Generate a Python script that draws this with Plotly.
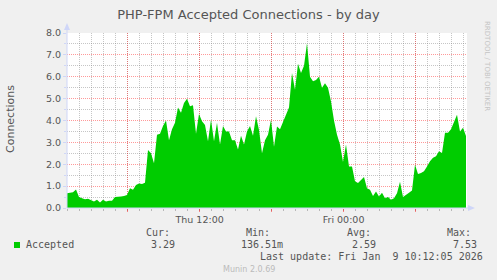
import plotly.graph_objects as go
import pandas as pd

# ---------------- data ----------------
start_time = "2026-01-08 00:57"
step = "15min"
accepted = [
    0.68, 0.70, 0.72, 0.85, 0.50, 0.45, 0.40, 0.42, 0.35, 0.30,
    0.38, 0.25, 0.38, 0.30, 0.33, 0.33, 0.50, 0.53, 0.53, 0.55,
    0.60, 0.90, 0.83, 1.05, 1.12, 1.10, 1.15, 2.65, 2.50, 2.05,
    3.35, 3.40, 3.75, 4.00, 3.10, 3.60, 3.90, 4.60, 4.35, 4.80,
    5.00, 4.65, 4.70, 3.40, 4.30, 3.97, 3.80, 3.05, 4.05, 3.05,
    3.90, 2.90, 3.75, 3.50, 3.50, 3.10, 3.10, 2.68, 3.30, 2.90,
    3.50, 3.75, 3.30, 4.20, 3.57, 2.50, 3.10, 3.35, 4.03, 2.80,
    3.73, 3.60, 3.95, 4.30, 4.60, 6.17, 5.40, 6.60, 6.17, 6.50,
    7.53, 6.00, 5.80, 5.85, 6.00, 5.50, 5.70, 5.50, 4.87, 4.00,
    3.35, 2.90, 2.10, 2.90, 1.90, 1.90, 1.22, 1.14, 1.30, 1.42,
    0.90, 0.84, 0.55, 0.76, 0.53, 0.70, 0.45, 0.50, 0.38, 0.45,
    0.68, 1.20, 0.50, None, 0.70, 0.80, 1.98, 1.55, 1.60, 1.68,
    1.90, 2.14, 2.30, 2.37, 2.60, 2.52, 3.44, 3.44, 3.60, 3.90,
    4.26, 3.50, 3.67, 3.29,
]
times = pd.date_range(start_time, periods=len(accepted), freq=step)

x_range = ["2026-01-08 00:57", "2026-01-09 10:17"]
x_tickvals = ["2026-01-08 06:00", "2026-01-08 12:00", "2026-01-08 18:00",
              "2026-01-09 00:00", "2026-01-09 06:00"]
x_ticktext = ["", "Thu 12:00", "", "Fri 00:00", ""]

title_text = "PHP-FPM Accepted Connections - by day"
y_title = "Connections"
series_name = "Accepted"
stat_headers = ["Cur:", "Min:", "Avg:", "Max:"]
stat_values = ["3.29", "136.51m", "2.59", "7.53"]
last_update = "Last update: Fri Jan  9 10:12:05 2026"
munin_version = "Munin 2.0.69"
rrd_credit = "RRDTOOL / TOBI OETIKER"

# ---------------- layout helpers ----------------
W, H = 497, 280
L, R, T, B = 67, 467, 33, 208
GREEN = "#00CC00"
TXT = "#555555"
AXIS = "#CFD6F8"
MGRID = "rgba(255,0,0,0.40)"
GRID = "rgba(128,128,128,0.45)"


def px(x):
    return (x - L) / (R - L)


def py(y):
    return (B - y) / (B - T)


fig = go.Figure()
fig.add_trace(go.Scatter(
    x=times, y=accepted, mode="lines",
    line=dict(width=0, shape="linear", color=GREEN),
    fill="tozeroy", fillcolor=GREEN, connectgaps=False,
    hoverinfo="skip", showlegend=False,
))

fig.update_layout(
    width=W, height=H,
    margin=dict(l=L, r=W - R, t=T, b=H - B),
    paper_bgcolor="#F0F0F0", plot_bgcolor="#FFFFFF",
    font=dict(family="DejaVu Sans", color=TXT, size=9.5),
    showlegend=False,
    title=dict(text=title_text, x=0.5, xref="container", xanchor="center",
               y=1 - 14 / H, yref="container", yanchor="middle",
               font=dict(size=13, color=TXT, family="DejaVu Sans")),
    xaxis=dict(
        type="date", range=x_range, tickmode="array",
        tickvals=x_tickvals, ticktext=x_ticktext,
        showgrid=True, gridcolor=MGRID, griddash="1px,1px", gridwidth=1,
        ticks="outside", ticklen=3, tickcolor="rgba(255,0,0,0.45)",
        showline=False, zeroline=False,
        tickfont=dict(size=9.5, color=TXT),
        minor=dict(dtick=3600000, tick0="2026-01-08 00:00", showgrid=True,
                   gridcolor=GRID, griddash="1px,1px", gridwidth=1,
                   ticks="outside", ticklen=2,
                   tickcolor="rgba(128,128,128,0.5)"),
    ),
    yaxis=dict(
        range=[0, 8], tickmode="linear", tick0=0, dtick=1, tickformat=".1f",
        showgrid=True, gridcolor=MGRID, griddash="1px,1px", gridwidth=1,
        ticks="outside", ticklen=3, tickcolor=AXIS,
        showline=False, zeroline=False,
        tickfont=dict(size=9.5, color=TXT),
        minor=dict(dtick=0.5, tick0=0, showgrid=True, gridcolor=GRID,
                   griddash="1px,1px", gridwidth=1, ticks="outside",
                   ticklen=2, tickcolor=AXIS),
    ),
)

shapes = []
# axes with arrows
shapes.append(dict(type="line", xref="paper", yref="paper",
                   x0=px(L), x1=px(L), y0=py(B), y1=py(27),
                   line=dict(color=AXIS, width=1)))
shapes.append(dict(type="path", xref="paper", yref="paper",
                   path=f"M {px(64)},{py(30)} L {px(70)},{py(30)} L {px(67)},{py(23)} Z",
                   fillcolor=AXIS, line=dict(color=AXIS, width=0)))
shapes.append(dict(type="line", xref="paper", yref="paper",
                   x0=px(L), x1=px(469), y0=py(B), y1=py(B),
                   line=dict(color=AXIS, width=1)))
shapes.append(dict(type="path", xref="paper", yref="paper",
                   path=f"M {px(468)},{py(205)} L {px(468)},{py(211)} L {px(475)},{py(208)} Z",
                   fillcolor=AXIS, line=dict(color=AXIS, width=0)))
# legend swatch
shapes.append(dict(type="rect", xref="paper", yref="paper",
                   x0=px(14), x1=px(20), y0=py(248), y1=py(242),
                   fillcolor=GREEN, line=dict(width=0)))
fig.update_layout(shapes=shapes)

MONO = dict(family="DejaVu Sans Mono", size=10, color=TXT)


def ann(text, x, y, xanchor="left", font=None, angle=0):
    return dict(text=text, x=px(x), y=py(y), xref="paper", yref="paper",
                xanchor=xanchor, yanchor="middle", showarrow=False,
                borderpad=0, borderwidth=0, textangle=angle,
                font=font or MONO)


anns = [
    ann(y_title, 10.5, 119.5, "center",
        dict(family="DejaVu Sans", size=11, color=TXT), -90),
    ann(rrd_credit, 487, 66, "center",
        dict(family="DejaVu Sans", size=7, color="#C4C4C4"), 90),
    ann(series_name, 26, 244.5),
    ann(last_update, 483, 256.8, "right"),
    ann(munin_version, 248.8, 269.3, "center",
        dict(family="DejaVu Sans", size=8, color="#BBBBBB")),
]
header_x = [146, 246, 347, 447]
value_right = [175, 283, 376, 477]
for h, hx in zip(stat_headers, header_x):
    anns.append(ann(h, hx, 232.8))
for v, vx in zip(stat_values, value_right):
    anns.append(ann(v, vx, 244.5, "right"))
fig.update_layout(annotations=anns)

fig.write_html("out.html")
